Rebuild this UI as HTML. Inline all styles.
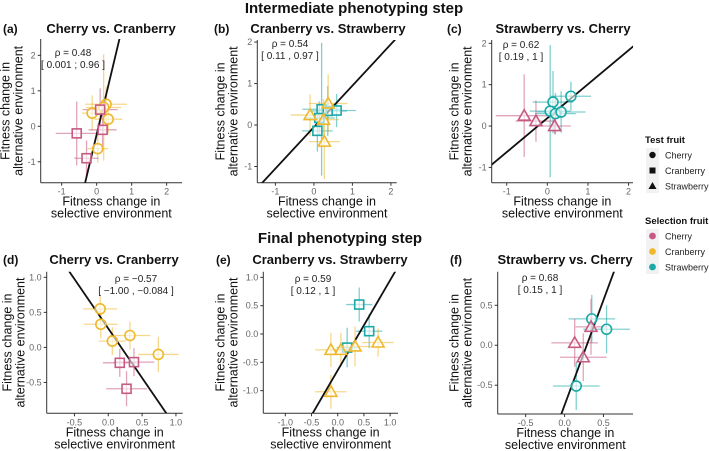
<!DOCTYPE html>
<html><head><meta charset="utf-8">
<style>
html,body{margin:0;background:#fff;overflow:hidden;width:709px;height:451px;}
svg{display:block;font-family:"Liberation Sans",Arial,sans-serif;overflow:hidden;}
.tick{font-size:9px;fill:#666;}
.ttl{font-size:13px;font-weight:bold;fill:#111;}
.sec{font-size:15px;font-weight:bold;fill:#111;}
.lab{font-size:12.5px;fill:#111;}
.rho{font-size:10px;fill:#222;}
.tag{font-size:12px;font-weight:bold;fill:#111;}
.leg{font-size:9px;fill:#222;}
.legt{font-size:9.5px;font-weight:bold;fill:#111;}
</style></head>
<body>
<svg id="fig" width="709" height="451" viewBox="0 0 709 451">
<text class="sec" x="354" y="13" text-anchor="middle">Intermediate phenotyping step</text>
<text class="sec" x="340" y="243" text-anchor="middle">Final phenotyping step</text>
<g>
<text class="legt" x="645" y="143">Test fruit</text>
<rect x="646" y="148" width="13" height="45" fill="#f2f2f2"/>
<circle cx="652.5" cy="155" r="3.2" fill="#111"/>
<text class="leg" x="665" y="158.5">Cherry</text>
<rect x="649.5" y="167.5" width="6" height="6" fill="#111"/>
<text class="leg" x="665" y="174">Cranberry</text>
<polygon points="652.5,182 656.5,189 648.5,189" fill="#111"/>
<text class="leg" x="665" y="189.5">Strawberry</text>
<text class="legt" x="645" y="224">Selection fruit</text>
<rect x="646" y="229" width="13" height="45" fill="#f2f2f2"/>
<circle cx="652.5" cy="236" r="3.4" fill="#c75a82"/>
<text class="leg" x="665" y="239.5">Cherry</text>
<circle cx="652.5" cy="251.5" r="3.4" fill="#efb82c"/>
<text class="leg" x="665" y="255">Cranberry</text>
<circle cx="652.5" cy="267" r="3.4" fill="#1aa9a7"/>
<text class="leg" x="665" y="270.5">Strawberry</text>
</g>
</svg>
<script>
const aX=[0.27,0.2,-0.13,0.33,0.03,0.1,0.17,-0.57,-0.29];
const aY=[0.62,0.53,0.37,0.2,-0.63,0.47,-0.1,-0.2,-0.9];
const aXe=[0.6,0.5,0.3,0.4,0.3,0.5,0.4,0.6,0.35];
const aYe=[0.5,1.5,0.5,0.4,0.4,0.6,0.5,0.9,0.5];
const aTest=['c','c','c','c','c','q','q','q','q'];
const aSel=['cran','cran','cran','cran','cran','cher','cher','cher','cher'];
const aFit=[4.13,-0.23];

const bX=[0.2,0.36,0.59,0.14,0.09,-0.1,0.37,0.27,0.25];
const bY=[0.38,0.34,0.35,0.17,-0.14,0.24,0.52,-0.4,0.13];
const bXe=[0.5,0.5,0.5,0.4,0.4,0.5,0.5,0.4,0.4];
const bYe=[1.6,0.6,0.4,0.4,0.5,0.5,0.7,0.9,0.5];
const bTest=['q','q','q','q','q','t','t','t','t'];
const bSel=['straw','straw','straw','straw','straw','cran','cran','cran','cran'];
const bFit=[1.0,-0.05];

const cX=[0.58,0.14,0.07,0.2,0.34,-0.57,-0.28,0.18];
const cY=[0.72,0.58,0.36,0.3,0.34,0.25,0.12,0.0];
const cXe=[0.5,0.5,0.5,0.5,0.6,0.7,0.5,0.4];
const cYe=[0.35,0.75,1.6,0.5,0.5,1.0,0.5,0.2];
const cTest=['c','c','c','c','c','t','t','t'];
const cSel=['straw','straw','straw','straw','straw','cher','cher','cher'];
const cFit=[0.82,0.19];

const dX=[-0.12,-0.11,0.06,0.32,0.74,0.17,0.38,0.27];
const dY=[0.55,0.33,0.09,0.17,-0.1,-0.22,-0.21,-0.59];
const dXe=[0.25,0.25,0.2,0.3,0.3,0.25,0.3,0.3];
const dYe=[0.2,0.2,0.2,0.2,0.25,0.2,0.2,0.25];
const dTest=['c','c','c','c','c','q','q','q'];
const dSel=['cran','cran','cran','cran','cran','cher','cher','cher'];
const dFit=[-1.41,0.27];

const eX=[0.41,0.6,0.18,-0.13,0.06,0.33,0.77,-0.13];
const eY=[0.52,0.05,-0.24,-0.28,-0.28,-0.22,-0.15,-1.02];
const eXe=[0.25,0.25,0.2,0.3,0.2,0.3,0.3,0.3];
const eYe=[0.3,0.3,0.35,0.3,0.3,0.35,0.25,0.3];
const eTest=['q','q','q','t','t','t','t','t'];
const eSel=['straw','straw','straw','cran','cran','cran','cran','cran'];
const eFit=[1.59,-0.64];

const fX=[0.35,0.54,0.15,0.34,0.13,0.24];
const fY=[0.33,0.2,-0.51,0.23,0.03,-0.15];
const fXe=[0.3,0.3,0.3,0.2,0.3,0.3];
const fYe=[0.3,0.3,0.3,0.35,0.3,0.3];
const fTest=['c','c','c','t','t','t'];
const fSel=['straw','straw','straw','cher','cher','cher'];
const fFit=[2.63,-0.75];

const aTicks=[-1,0,1,2], aYTicks=[-1,0,1,2];
const dXTicks=[-0.5,0,0.5,1], dYTicks=[-0.5,0,0.5,1];
const eXTicks=[-1,-0.5,0,0.5,1], eYTicks=[-1,-0.5,0,0.5,1];
const fXTicks=[-0.5,0,0.5], fYTicks=[-0.5,0,0.5];

const COL={cher:'#c75a82',cran:'#efb82c',straw:'#1aa9a7'};
const NS='http://www.w3.org/2000/svg';
const svg=document.getElementById('fig');
function mk(tag,attrs,parent){const e=document.createElementNS(NS,tag);for(const k in attrs)e.setAttribute(k,attrs[k]);(parent||svg).appendChild(e);return e;}

function panel(o){
  const g=mk('g',{});
  
  
  const sx=v=>o.px0+(v-o.xd[0])/(o.xd[1]-o.xd[0])*(o.px1-o.px0);
  const sy=v=>o.py0+(o.yd[0]-v)/(o.yd[0]-o.yd[1])*(o.py1-o.py0);
  const cid='clip'+o.id;
  const cp=mk('clipPath',{id:cid},g);mk('rect',{x:o.px0,y:o.py0,width:o.px1-o.px0,height:o.py1-o.py0},cp);
  const ax=mk('line',{x1:o.px0,y1:o.py1,x2:o.px1,y2:o.py1,stroke:'#333','stroke-width':1},g);
  
  
  const ay=mk('line',{x1:o.px0,y1:o.py0,x2:o.px0,y2:o.py1,stroke:'#333','stroke-width':1},g);
  
  
  o.xt.forEach(v=>{const x=sx(v);mk('line',{x1:x,y1:o.py1,x2:x,y2:o.py1+3,stroke:'#333'},g);
    const t=mk('text',{x:x,y:o.py1+12,'text-anchor':'middle',class:'tick'},g);t.textContent=o.fmt(v);
    
    });
  o.yt.forEach(v=>{const y=sy(v);mk('line',{x1:o.px0-3,y1:y,x2:o.px0,y2:y,stroke:'#333'},g);
    const t=mk('text',{x:o.px0-5,y:y+3,'text-anchor':'end',class:'tick'},g);t.textContent=o.fmt(v);
    
    });
  const pg=mk('g',{'clip-path':'url(#'+cid+')'},g);
  o.X.forEach((v,i)=>{const c=COL[o.S[i]];const x=sx(v),y=sy(o.Y[i]);
    const e1=mk('line',{x1:sx(v-o.Xe[i]),y1:y,x2:sx(v+o.Xe[i]),y2:y,stroke:c,'stroke-opacity':0.55,'stroke-width':1.3},pg);
    
    
    const e2=mk('line',{x1:x,y1:sy(o.Y[i]-o.Ye[i]),x2:x,y2:sy(o.Y[i]+o.Ye[i]),stroke:c,'stroke-opacity':0.55,'stroke-width':1.3},pg);
    
    });
  const x0=o.xd[0]-1,x1=o.xd[1]+1;
  const fl=mk('line',{x1:sx(x0),y1:sy(o.F[0]*x0+o.F[1]),x2:sx(x1),y2:sy(o.F[0]*x1+o.F[1]),stroke:'#111','stroke-width':1.8},pg);
  
  
  o.X.forEach((v,i)=>{const c=COL[o.S[i]];const x=sx(v),y=sy(o.Y[i]);let p;
    const st={fill:'#fff','fill-opacity':0.6,stroke:c,'stroke-width':1.6};
    if(o.T[i]==='c'){p=mk('circle',Object.assign({cx:x,cy:y,r:5},st),g);}
    else if(o.T[i]==='q'){p=mk('rect',Object.assign({x:x-4.5,y:y-4.5,width:9,height:9},st),g);}
    else{p=mk('polygon',Object.assign({points:`${x},${y-6} ${x+6},${y+4.5} ${x-6},${y+4.5}`},st),g);}
    
    });
  const cx=(o.px0+o.px1)/2;
  const tl=mk('text',{x:o.titleX||cx,y:o.ty,'text-anchor':'middle',class:'ttl'},g);tl.textContent=o.title;
  
  
  const tg=mk('text',{x:o.tagX,y:o.ty,class:'tag'},g);tg.textContent='('+o.id+')';
  
  
  const r1=mk('text',{x:o.rx,y:o.ry,'text-anchor':'middle',class:'rho'},g);r1.textContent=o.rho;
  
  
  const r2=mk('text',{x:o.rx,y:o.ry+12,'text-anchor':'middle',class:'rho'},g);r2.textContent=o.ci;
  
  
  const xl1=mk('text',{x:cx,y:o.py1+23,'text-anchor':'middle',class:'lab'},g);xl1.textContent='Fitness change in';
  
  
  const xl2=mk('text',{x:cx,y:o.py1+35,'text-anchor':'middle',class:'lab'},g);xl2.textContent='selective environment';
  
  
  const cy=(o.py0+o.py1)/2;
  const yl1=mk('text',{x:0,y:0,'text-anchor':'middle',class:'lab',transform:`translate(${o.px0-o.yo-13},${cy}) rotate(-90)`},g);yl1.textContent='Fitness change in';
  
  
  const yl2=mk('text',{x:0,y:0,'text-anchor':'middle',class:'lab',transform:`translate(${o.px0-o.yo},${cy}) rotate(-90)`},g);yl2.textContent='alternative environment';
  
  
}
const f1=v=>String(v);
const f2=v=>v.toFixed(1);
panel({id:'a',px0:40.7,px1:182,py0:39,py1:182.7,xd:[-1.6,2.44],yd:[2.46,-1.59],xt:aTicks,yt:aYTicks,fmt:f1,
  X:aX,Y:aY,Xe:aXe,Ye:aYe,T:aTest,S:aSel,F:aFit,title:'Cherry vs. Cranberry',titleX:111,ty:33,tagX:3,rx:73,ry:56,rho:'ρ = 0.48',ci:'[ 0.001 ; 0.96 ]',yo:18});
panel({id:'b',px0:257.3,px1:396.7,py0:40,py1:182.7,xd:[-1.47,2.15],yd:[2.05,-1.39],xt:aTicks,yt:aYTicks,fmt:f1,
  X:bX,Y:bY,Xe:bXe,Ye:bYe,T:bTest,S:bSel,F:bFit,title:'Cranberry vs. Strawberry',titleX:328,ty:33,tagX:214,rx:290,ry:47,rho:'ρ = 0.54',ci:'[ 0.11 , 0.97 ]',yo:20});
panel({id:'c',px0:491.7,px1:633,py0:40,py1:182.7,xd:[-1.37,2.11],yd:[2.08,-1.37],xt:aTicks,yt:aYTicks,fmt:f1,
  X:cX,Y:cY,Xe:cXe,Ye:cYe,T:cTest,S:cSel,F:cFit,title:'Strawberry vs. Cherry',titleX:563,ty:33,tagX:447,rx:521,ry:48,rho:'ρ = 0.62',ci:'[ 0.19 , 1 ]',yo:20});
panel({id:'d',px0:46.7,px1:182.7,py0:271.7,py1:413.3,xd:[-0.91,1.1],yd:[1.08,-0.94],xt:dXTicks,yt:dYTicks,fmt:f2,
  X:dX,Y:dY,Xe:dXe,Ye:dYe,T:dTest,S:dSel,F:dFit,title:'Cherry vs. Cranberry',titleX:114,ty:264,tagX:3,rx:136,ry:282,rho:'ρ = −0.57',ci:'[ −1.00 , −0.084 ]',yo:22});
panel({id:'e',px0:263.3,px1:398,py0:271.7,py1:413.3,xd:[-1.42,1.15],yd:[1.1,-1.4],xt:eXTicks,yt:eYTicks,fmt:f2,
  X:eX,Y:eY,Xe:eXe,Ye:eYe,T:eTest,S:eSel,F:eFit,title:'Cranberry vs. Strawberry',titleX:330,ty:264,tagX:216,rx:313,ry:282,rho:'ρ = 0.59',ci:'[ 0.12 , 1 ]',yo:26});
panel({id:'f',px0:497.7,px1:633,py0:271.7,py1:414,xd:[-0.86,0.88],yd:[0.92,-0.86],xt:fXTicks,yt:fYTicks,fmt:f2,
  X:fX,Y:fY,Xe:fXe,Ye:fYe,T:fTest,S:fSel,F:fFit,title:'Strawberry vs. Cherry',titleX:565,ty:264,tagX:450,rx:540,ry:281,rho:'ρ = 0.68',ci:'[ 0.15 , 1 ]',yo:26});
</script>
</body></html>
